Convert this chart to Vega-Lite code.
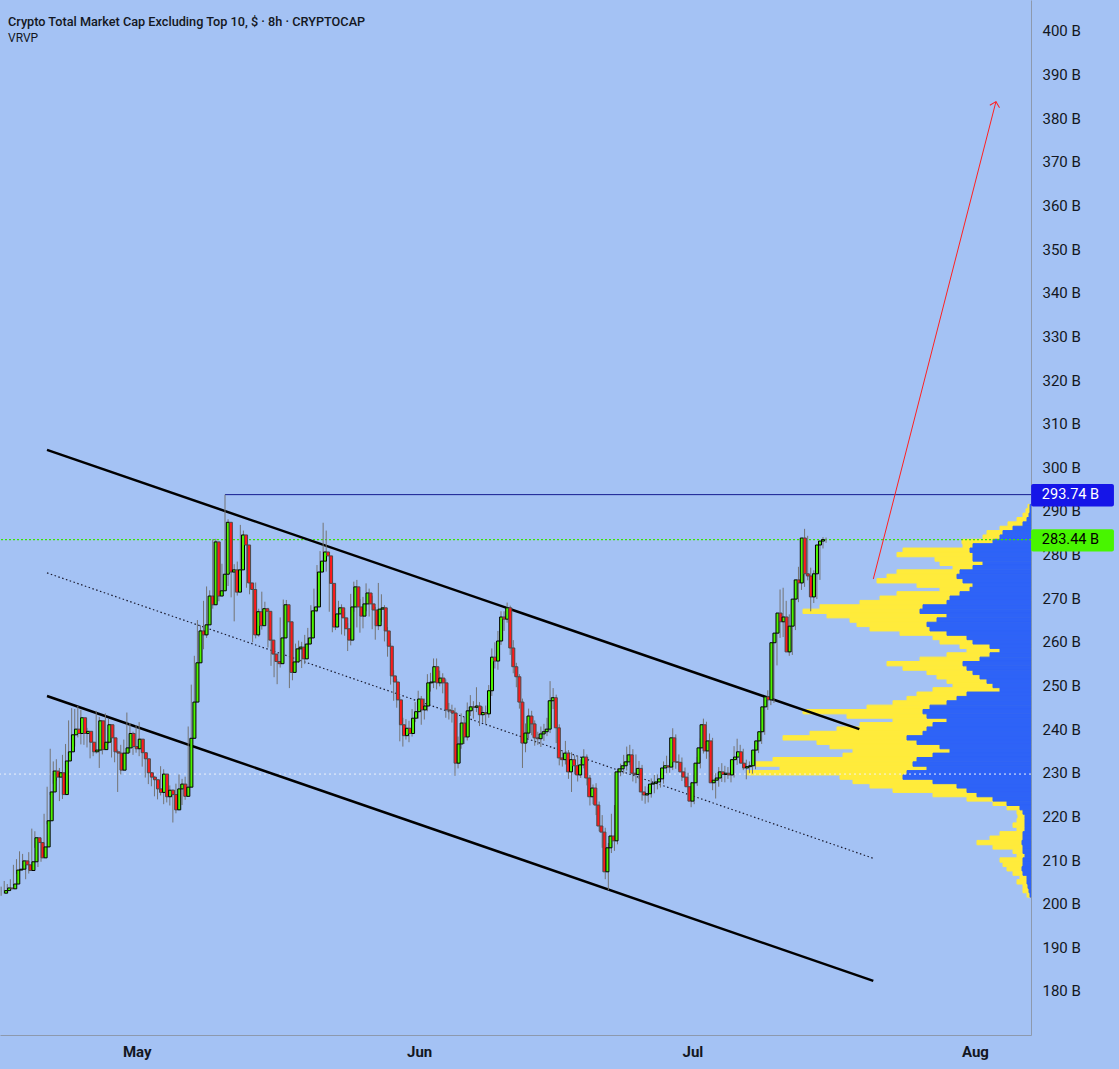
{
"$schema": "https://vega.github.io/schema/vega-lite/v6.json",
"width": 1031, "height": 1035,
"autosize": {"type": "none"},
"padding": {"left": 0, "top": 0, "right": 88, "bottom": 34},
"background": "#a4c2f4",
"config": {"view": {"stroke": null}, "font": "Roboto"},
"title": {"text": "Crypto Total Market Cap Excluding Top 10, $ · 8h · CRYPTOCAP", "subtitle": "VRVP", "anchor": "start", "frame": "group", "orient": "top", "offset": -44, "dx": 8, "font": "Roboto", "fontSize": 12.7, "fontWeight": 500, "color": "#131722", "subtitleFont": "Roboto", "subtitleFontSize": 12, "subtitleColor": "#131722", "subtitlePadding": 4},
"datasets": {
"candles": [
{"t":"2025-04-16T16:00","o":202.4,"h":203.9,"l":201.8,"c":203.0},
{"t":"2025-04-17T00:00","o":203.0,"h":205.2,"l":202.3,"c":203.6},
{"t":"2025-04-17T08:00","o":203.6,"h":204.5,"l":202.6,"c":203.4},
{"t":"2025-04-17T16:00","o":203.4,"h":205.6,"l":203.0,"c":204.5},
{"t":"2025-04-18T00:00","o":204.5,"h":208.9,"l":204.0,"c":207.7},
{"t":"2025-04-18T08:00","o":207.7,"h":210.2,"l":206.8,"c":207.9},
{"t":"2025-04-18T16:00","o":207.9,"h":212.0,"l":207.2,"c":209.8},
{"t":"2025-04-19T00:00","o":209.8,"h":211.4,"l":208.0,"c":208.9},
{"t":"2025-04-19T08:00","o":208.9,"h":209.6,"l":205.6,"c":207.6},
{"t":"2025-04-19T16:00","o":207.6,"h":211.8,"l":206.9,"c":209.6},
{"t":"2025-04-20T00:00","o":209.6,"h":217.2,"l":209.0,"c":215.1},
{"t":"2025-04-20T08:00","o":215.1,"h":216.6,"l":212.8,"c":214.0},
{"t":"2025-04-20T16:00","o":214.0,"h":214.8,"l":208.4,"c":210.5},
{"t":"2025-04-21T00:00","o":210.5,"h":214.3,"l":209.6,"c":213.0},
{"t":"2025-04-21T08:00","o":213.0,"h":220.6,"l":212.1,"c":219.0},
{"t":"2025-04-21T16:00","o":219.0,"h":226.8,"l":218.2,"c":225.6},
{"t":"2025-04-22T00:00","o":225.6,"h":235.5,"l":224.9,"c":230.4},
{"t":"2025-04-22T08:00","o":230.4,"h":232.6,"l":227.5,"c":229.0},
{"t":"2025-04-22T16:00","o":229.0,"h":233.1,"l":228.2,"c":230.0},
{"t":"2025-04-23T00:00","o":230.0,"h":231.1,"l":223.5,"c":225.0},
{"t":"2025-04-23T08:00","o":225.0,"h":234.1,"l":224.0,"c":232.7},
{"t":"2025-04-23T16:00","o":232.7,"h":236.6,"l":231.0,"c":234.8},
{"t":"2025-04-24T00:00","o":234.8,"h":242.0,"l":233.9,"c":238.7},
{"t":"2025-04-24T08:00","o":238.7,"h":244.8,"l":237.6,"c":240.0},
{"t":"2025-04-24T16:00","o":240.0,"h":244.6,"l":236.0,"c":239.0},
{"t":"2025-04-25T00:00","o":239.0,"h":245.3,"l":238.1,"c":242.6},
{"t":"2025-04-25T08:00","o":242.6,"h":244.4,"l":236.5,"c":239.0},
{"t":"2025-04-25T16:00","o":239.0,"h":241.6,"l":236.4,"c":239.5},
{"t":"2025-04-26T00:00","o":239.5,"h":240.3,"l":235.8,"c":237.0},
{"t":"2025-04-26T08:00","o":237.0,"h":238.6,"l":233.3,"c":234.8},
{"t":"2025-04-26T16:00","o":234.8,"h":236.9,"l":233.8,"c":235.2},
{"t":"2025-04-27T00:00","o":235.2,"h":244.2,"l":234.4,"c":241.9},
{"t":"2025-04-27T08:00","o":241.9,"h":242.8,"l":231.1,"c":235.3},
{"t":"2025-04-27T16:00","o":235.3,"h":238.9,"l":234.2,"c":237.0},
{"t":"2025-04-28T00:00","o":237.0,"h":243.6,"l":236.2,"c":241.0},
{"t":"2025-04-28T08:00","o":241.0,"h":242.3,"l":236.7,"c":238.0},
{"t":"2025-04-28T16:00","o":238.0,"h":239.1,"l":233.5,"c":234.8},
{"t":"2025-04-29T00:00","o":234.8,"h":236.0,"l":232.4,"c":234.5},
{"t":"2025-04-29T08:00","o":234.5,"h":235.3,"l":225.6,"c":230.6},
{"t":"2025-04-29T16:00","o":230.6,"h":236.4,"l":229.6,"c":234.5},
{"t":"2025-04-30T00:00","o":234.5,"h":237.6,"l":233.5,"c":235.7},
{"t":"2025-04-30T08:00","o":235.7,"h":243.8,"l":234.9,"c":239.0},
{"t":"2025-04-30T16:00","o":239.0,"h":241.4,"l":234.6,"c":236.0},
{"t":"2025-05-01T00:00","o":236.0,"h":239.4,"l":234.1,"c":235.5},
{"t":"2025-05-01T08:00","o":235.5,"h":240.9,"l":234.6,"c":237.7},
{"t":"2025-05-01T16:00","o":237.7,"h":241.6,"l":233.8,"c":234.6},
{"t":"2025-05-02T00:00","o":234.6,"h":235.7,"l":231.4,"c":233.2},
{"t":"2025-05-02T08:00","o":233.2,"h":234.2,"l":228.9,"c":230.0},
{"t":"2025-05-02T16:00","o":230.0,"h":231.3,"l":227.4,"c":229.0},
{"t":"2025-05-03T00:00","o":229.0,"h":230.1,"l":226.9,"c":228.4},
{"t":"2025-05-03T08:00","o":228.4,"h":229.2,"l":224.6,"c":226.3},
{"t":"2025-05-03T16:00","o":226.3,"h":228.0,"l":223.9,"c":225.5},
{"t":"2025-05-04T00:00","o":225.5,"h":231.5,"l":224.8,"c":229.7},
{"t":"2025-05-04T08:00","o":229.7,"h":230.8,"l":222.8,"c":224.5},
{"t":"2025-05-04T16:00","o":224.5,"h":227.6,"l":223.2,"c":226.0},
{"t":"2025-05-05T00:00","o":226.0,"h":227.1,"l":222.5,"c":225.0},
{"t":"2025-05-05T08:00","o":225.0,"h":226.2,"l":218.6,"c":221.5},
{"t":"2025-05-05T16:00","o":221.5,"h":227.5,"l":220.7,"c":226.3},
{"t":"2025-05-06T00:00","o":226.3,"h":229.6,"l":225.4,"c":227.4},
{"t":"2025-05-06T08:00","o":227.4,"h":228.6,"l":222.6,"c":224.6},
{"t":"2025-05-06T16:00","o":224.6,"h":229.1,"l":223.8,"c":226.7},
{"t":"2025-05-07T00:00","o":226.7,"h":240.6,"l":225.9,"c":237.9},
{"t":"2025-05-07T08:00","o":237.9,"h":250.2,"l":237.0,"c":246.2},
{"t":"2025-05-07T16:00","o":246.2,"h":256.8,"l":245.3,"c":255.2},
{"t":"2025-05-08T00:00","o":255.2,"h":265.0,"l":254.0,"c":262.5},
{"t":"2025-05-08T08:00","o":262.5,"h":263.8,"l":257.0,"c":261.6},
{"t":"2025-05-08T16:00","o":261.6,"h":269.4,"l":258.3,"c":263.9},
{"t":"2025-05-09T00:00","o":263.9,"h":272.7,"l":260.9,"c":270.5},
{"t":"2025-05-09T08:00","o":270.5,"h":271.8,"l":264.1,"c":268.5},
{"t":"2025-05-09T16:00","o":268.5,"h":283.5,"l":267.6,"c":282.9},
{"t":"2025-05-10T00:00","o":282.9,"h":283.6,"l":269.1,"c":270.5},
{"t":"2025-05-10T08:00","o":270.5,"h":276.3,"l":269.3,"c":271.7},
{"t":"2025-05-10T16:00","o":271.7,"h":277.9,"l":270.8,"c":275.5},
{"t":"2025-05-11T00:00","o":275.5,"h":293.74,"l":274.9,"c":287.4},
{"t":"2025-05-11T08:00","o":287.4,"h":288.1,"l":272.8,"c":276.0},
{"t":"2025-05-11T16:00","o":276.0,"h":279.1,"l":270.2,"c":276.5},
{"t":"2025-05-12T00:00","o":276.5,"h":277.8,"l":264.7,"c":271.4},
{"t":"2025-05-12T08:00","o":271.4,"h":278.4,"l":270.6,"c":276.5},
{"t":"2025-05-12T16:00","o":276.5,"h":286.8,"l":275.9,"c":284.5},
{"t":"2025-05-13T00:00","o":284.5,"h":285.5,"l":280.4,"c":282.2},
{"t":"2025-05-13T08:00","o":282.2,"h":282.9,"l":272.4,"c":273.5},
{"t":"2025-05-13T16:00","o":273.5,"h":275.3,"l":270.9,"c":272.0},
{"t":"2025-05-14T00:00","o":272.0,"h":272.8,"l":259.9,"c":261.6},
{"t":"2025-05-14T08:00","o":261.6,"h":273.6,"l":260.8,"c":266.9},
{"t":"2025-05-14T16:00","o":266.9,"h":267.6,"l":261.2,"c":263.7},
{"t":"2025-05-15T00:00","o":263.7,"h":271.5,"l":262.8,"c":267.6},
{"t":"2025-05-15T08:00","o":267.6,"h":269.2,"l":264.1,"c":267.0},
{"t":"2025-05-15T16:00","o":267.0,"h":267.8,"l":258.7,"c":260.4},
{"t":"2025-05-16T00:00","o":260.4,"h":262.0,"l":254.5,"c":257.2},
{"t":"2025-05-16T08:00","o":257.2,"h":258.6,"l":251.9,"c":255.5},
{"t":"2025-05-16T16:00","o":255.5,"h":257.0,"l":250.3,"c":255.0},
{"t":"2025-05-17T00:00","o":255.0,"h":265.6,"l":254.1,"c":260.9},
{"t":"2025-05-17T08:00","o":260.9,"h":269.7,"l":259.8,"c":268.5},
{"t":"2025-05-17T16:00","o":268.5,"h":269.6,"l":262.4,"c":264.6},
{"t":"2025-05-18T00:00","o":264.6,"h":265.1,"l":249.4,"c":253.0},
{"t":"2025-05-18T08:00","o":253.0,"h":258.7,"l":251.2,"c":255.4},
{"t":"2025-05-18T16:00","o":255.4,"h":259.6,"l":253.4,"c":258.4},
{"t":"2025-05-19T00:00","o":258.4,"h":260.3,"l":255.2,"c":258.8},
{"t":"2025-05-19T08:00","o":258.8,"h":260.0,"l":254.0,"c":256.1},
{"t":"2025-05-19T16:00","o":256.1,"h":261.6,"l":254.9,"c":259.5},
{"t":"2025-05-20T00:00","o":259.5,"h":263.2,"l":258.6,"c":260.9},
{"t":"2025-05-20T08:00","o":260.9,"h":268.4,"l":259.7,"c":267.1},
{"t":"2025-05-20T16:00","o":267.1,"h":272.2,"l":265.6,"c":268.0},
{"t":"2025-05-21T00:00","o":268.0,"h":277.6,"l":266.8,"c":276.0},
{"t":"2025-05-21T08:00","o":276.0,"h":280.8,"l":272.8,"c":278.5},
{"t":"2025-05-21T16:00","o":278.5,"h":287.3,"l":277.9,"c":280.6},
{"t":"2025-05-22T00:00","o":280.6,"h":285.5,"l":276.1,"c":279.7},
{"t":"2025-05-22T08:00","o":279.7,"h":280.4,"l":266.9,"c":273.4},
{"t":"2025-05-22T16:00","o":273.4,"h":274.0,"l":262.2,"c":263.4},
{"t":"2025-05-23T00:00","o":263.4,"h":269.2,"l":262.7,"c":266.4},
{"t":"2025-05-23T08:00","o":266.4,"h":269.4,"l":265.0,"c":267.8},
{"t":"2025-05-23T16:00","o":267.8,"h":268.6,"l":261.7,"c":265.5},
{"t":"2025-05-24T00:00","o":265.5,"h":266.9,"l":261.4,"c":263.0},
{"t":"2025-05-24T08:00","o":263.0,"h":264.3,"l":257.9,"c":260.4},
{"t":"2025-05-24T16:00","o":260.4,"h":271.0,"l":259.2,"c":268.0},
{"t":"2025-05-25T00:00","o":268.0,"h":273.8,"l":266.9,"c":272.6},
{"t":"2025-05-25T08:00","o":272.6,"h":274.2,"l":263.3,"c":268.0},
{"t":"2025-05-25T16:00","o":268.0,"h":269.8,"l":262.1,"c":265.9},
{"t":"2025-05-26T00:00","o":265.9,"h":270.3,"l":263.1,"c":268.7},
{"t":"2025-05-26T08:00","o":268.7,"h":273.4,"l":267.0,"c":271.2},
{"t":"2025-05-26T16:00","o":271.2,"h":272.2,"l":265.8,"c":268.7},
{"t":"2025-05-27T00:00","o":268.7,"h":270.6,"l":262.9,"c":267.3},
{"t":"2025-05-27T08:00","o":267.3,"h":268.0,"l":260.5,"c":263.7},
{"t":"2025-05-27T16:00","o":263.7,"h":273.5,"l":262.7,"c":267.5},
{"t":"2025-05-28T00:00","o":267.5,"h":270.9,"l":264.6,"c":267.8},
{"t":"2025-05-28T08:00","o":267.8,"h":268.4,"l":260.1,"c":262.5},
{"t":"2025-05-28T16:00","o":262.5,"h":263.4,"l":256.6,"c":259.0},
{"t":"2025-05-29T00:00","o":259.0,"h":259.7,"l":250.2,"c":252.2},
{"t":"2025-05-29T08:00","o":252.2,"h":253.5,"l":246.5,"c":250.8},
{"t":"2025-05-29T16:00","o":250.8,"h":251.5,"l":244.9,"c":246.7},
{"t":"2025-05-30T00:00","o":246.7,"h":247.5,"l":237.2,"c":241.0},
{"t":"2025-05-30T08:00","o":241.0,"h":242.6,"l":236.0,"c":238.5},
{"t":"2025-05-30T16:00","o":238.5,"h":242.3,"l":237.6,"c":240.2},
{"t":"2025-05-31T00:00","o":240.2,"h":241.9,"l":237.0,"c":239.0},
{"t":"2025-05-31T08:00","o":239.0,"h":244.6,"l":238.3,"c":242.5},
{"t":"2025-05-31T16:00","o":242.5,"h":246.2,"l":241.6,"c":244.0},
{"t":"2025-06-01T00:00","o":244.0,"h":248.8,"l":242.4,"c":246.9},
{"t":"2025-06-01T08:00","o":246.9,"h":247.6,"l":241.0,"c":244.4},
{"t":"2025-06-01T16:00","o":244.4,"h":247.0,"l":242.2,"c":245.3},
{"t":"2025-06-02T00:00","o":245.3,"h":252.6,"l":244.1,"c":250.6},
{"t":"2025-06-02T08:00","o":250.6,"h":252.9,"l":248.6,"c":250.8},
{"t":"2025-06-02T16:00","o":250.8,"h":256.2,"l":249.4,"c":254.3},
{"t":"2025-06-03T00:00","o":254.3,"h":256.2,"l":249.1,"c":250.6},
{"t":"2025-06-03T08:00","o":250.6,"h":253.4,"l":249.8,"c":251.7},
{"t":"2025-06-03T16:00","o":251.7,"h":252.8,"l":248.2,"c":250.6},
{"t":"2025-06-04T00:00","o":250.6,"h":251.4,"l":242.6,"c":244.4},
{"t":"2025-06-04T08:00","o":244.4,"h":246.0,"l":242.2,"c":244.2},
{"t":"2025-06-04T16:00","o":244.2,"h":245.6,"l":241.5,"c":243.7},
{"t":"2025-06-05T00:00","o":243.7,"h":244.9,"l":229.3,"c":232.2},
{"t":"2025-06-05T08:00","o":232.2,"h":238.3,"l":231.0,"c":236.6},
{"t":"2025-06-05T16:00","o":236.6,"h":243.6,"l":235.5,"c":241.4},
{"t":"2025-06-06T00:00","o":241.4,"h":242.8,"l":236.6,"c":238.2},
{"t":"2025-06-06T08:00","o":238.2,"h":246.1,"l":237.4,"c":244.2},
{"t":"2025-06-06T16:00","o":244.2,"h":247.8,"l":243.0,"c":245.1},
{"t":"2025-06-07T00:00","o":245.1,"h":246.4,"l":242.4,"c":245.0},
{"t":"2025-06-07T08:00","o":245.0,"h":249.6,"l":243.9,"c":245.3},
{"t":"2025-06-07T16:00","o":245.3,"h":246.2,"l":240.7,"c":243.3},
{"t":"2025-06-08T00:00","o":243.3,"h":245.2,"l":241.6,"c":243.8},
{"t":"2025-06-08T08:00","o":243.8,"h":245.4,"l":241.2,"c":243.5},
{"t":"2025-06-08T16:00","o":243.5,"h":250.1,"l":242.6,"c":248.8},
{"t":"2025-06-09T00:00","o":248.8,"h":258.5,"l":247.6,"c":256.5},
{"t":"2025-06-09T08:00","o":256.5,"h":259.9,"l":253.9,"c":255.6},
{"t":"2025-06-09T16:00","o":255.6,"h":262.5,"l":253.6,"c":260.2},
{"t":"2025-06-10T00:00","o":260.2,"h":267.0,"l":259.3,"c":265.7},
{"t":"2025-06-10T08:00","o":265.7,"h":267.0,"l":262.5,"c":265.2},
{"t":"2025-06-10T16:00","o":265.2,"h":269.0,"l":264.4,"c":267.8},
{"t":"2025-06-11T00:00","o":267.8,"h":268.3,"l":257.0,"c":258.6},
{"t":"2025-06-11T08:00","o":258.6,"h":260.4,"l":252.8,"c":254.3},
{"t":"2025-06-11T16:00","o":254.3,"h":255.2,"l":249.6,"c":252.0},
{"t":"2025-06-12T00:00","o":252.0,"h":252.6,"l":244.7,"c":246.2},
{"t":"2025-06-12T08:00","o":246.2,"h":247.0,"l":231.1,"c":236.8},
{"t":"2025-06-12T16:00","o":236.8,"h":241.3,"l":234.7,"c":239.1},
{"t":"2025-06-13T00:00","o":239.1,"h":244.7,"l":237.9,"c":243.0},
{"t":"2025-06-13T08:00","o":243.0,"h":244.2,"l":238.6,"c":241.2},
{"t":"2025-06-13T16:00","o":241.2,"h":242.0,"l":236.2,"c":238.0},
{"t":"2025-06-14T00:00","o":238.0,"h":239.4,"l":236.4,"c":237.8},
{"t":"2025-06-14T08:00","o":237.8,"h":240.6,"l":235.9,"c":238.9},
{"t":"2025-06-14T16:00","o":238.9,"h":241.2,"l":237.3,"c":239.4},
{"t":"2025-06-15T00:00","o":239.4,"h":242.6,"l":238.4,"c":240.0},
{"t":"2025-06-15T08:00","o":240.0,"h":251.0,"l":239.1,"c":246.5},
{"t":"2025-06-15T16:00","o":246.5,"h":249.4,"l":244.6,"c":247.2},
{"t":"2025-06-16T00:00","o":247.2,"h":247.9,"l":236.8,"c":240.3},
{"t":"2025-06-16T08:00","o":240.3,"h":241.1,"l":231.7,"c":233.4},
{"t":"2025-06-16T16:00","o":233.4,"h":234.9,"l":231.4,"c":233.0},
{"t":"2025-06-17T00:00","o":233.0,"h":237.3,"l":231.9,"c":234.5},
{"t":"2025-06-17T08:00","o":234.5,"h":235.2,"l":228.6,"c":230.2},
{"t":"2025-06-17T16:00","o":230.2,"h":234.7,"l":225.6,"c":233.0},
{"t":"2025-06-18T00:00","o":233.0,"h":234.0,"l":229.6,"c":231.6},
{"t":"2025-06-18T08:00","o":231.6,"h":233.9,"l":228.0,"c":229.5},
{"t":"2025-06-18T16:00","o":229.5,"h":233.1,"l":228.8,"c":231.8},
{"t":"2025-06-19T00:00","o":231.8,"h":235.4,"l":231.0,"c":233.6},
{"t":"2025-06-19T08:00","o":233.6,"h":234.2,"l":227.1,"c":228.8},
{"t":"2025-06-19T16:00","o":228.8,"h":229.5,"l":222.5,"c":224.5},
{"t":"2025-06-20T00:00","o":224.5,"h":227.3,"l":222.8,"c":226.5},
{"t":"2025-06-20T08:00","o":226.5,"h":227.6,"l":220.3,"c":222.6},
{"t":"2025-06-20T16:00","o":222.6,"h":223.4,"l":216.6,"c":217.8},
{"t":"2025-06-21T00:00","o":217.8,"h":220.3,"l":212.8,"c":216.4},
{"t":"2025-06-21T08:00","o":216.4,"h":217.4,"l":205.6,"c":207.3},
{"t":"2025-06-21T16:00","o":207.3,"h":213.9,"l":203.1,"c":212.8},
{"t":"2025-06-22T00:00","o":212.8,"h":220.6,"l":211.6,"c":215.5},
{"t":"2025-06-22T08:00","o":215.5,"h":222.6,"l":212.1,"c":214.4},
{"t":"2025-06-22T16:00","o":214.4,"h":231.0,"l":213.6,"c":230.2},
{"t":"2025-06-23T00:00","o":230.2,"h":232.1,"l":229.2,"c":230.9},
{"t":"2025-06-23T08:00","o":230.9,"h":234.1,"l":229.8,"c":231.6},
{"t":"2025-06-23T16:00","o":231.6,"h":236.0,"l":230.5,"c":232.5},
{"t":"2025-06-24T00:00","o":232.5,"h":236.4,"l":231.8,"c":234.1},
{"t":"2025-06-24T08:00","o":234.1,"h":235.4,"l":228.0,"c":229.9},
{"t":"2025-06-24T16:00","o":229.9,"h":234.2,"l":227.6,"c":229.6},
{"t":"2025-06-25T00:00","o":229.6,"h":232.7,"l":228.6,"c":231.0},
{"t":"2025-06-25T08:00","o":231.0,"h":231.8,"l":223.6,"c":225.6},
{"t":"2025-06-25T16:00","o":225.6,"h":226.9,"l":222.9,"c":224.9},
{"t":"2025-06-26T00:00","o":224.9,"h":226.8,"l":223.2,"c":225.2},
{"t":"2025-06-26T08:00","o":225.2,"h":228.7,"l":224.3,"c":227.4},
{"t":"2025-06-26T16:00","o":227.4,"h":229.5,"l":225.3,"c":227.6},
{"t":"2025-06-27T00:00","o":227.6,"h":229.6,"l":226.2,"c":227.9},
{"t":"2025-06-27T08:00","o":227.9,"h":230.3,"l":226.6,"c":228.6},
{"t":"2025-06-27T16:00","o":228.6,"h":232.6,"l":227.5,"c":231.1},
{"t":"2025-06-28T00:00","o":231.1,"h":233.9,"l":229.9,"c":231.6},
{"t":"2025-06-28T08:00","o":231.6,"h":233.1,"l":230.0,"c":231.3},
{"t":"2025-06-28T16:00","o":231.3,"h":240.2,"l":230.6,"c":238.0},
{"t":"2025-06-29T00:00","o":238.0,"h":238.8,"l":230.9,"c":232.5},
{"t":"2025-06-29T08:00","o":232.5,"h":234.2,"l":230.6,"c":232.4},
{"t":"2025-06-29T16:00","o":232.4,"h":233.5,"l":228.1,"c":230.2},
{"t":"2025-06-30T00:00","o":230.2,"h":231.2,"l":227.6,"c":229.0},
{"t":"2025-06-30T08:00","o":229.0,"h":230.0,"l":225.5,"c":226.8},
{"t":"2025-06-30T16:00","o":226.8,"h":227.9,"l":222.1,"c":223.5},
{"t":"2025-07-01T00:00","o":223.5,"h":229.5,"l":222.8,"c":227.7},
{"t":"2025-07-01T08:00","o":227.7,"h":233.6,"l":227.0,"c":232.2},
{"t":"2025-07-01T16:00","o":232.2,"h":237.9,"l":231.0,"c":235.7},
{"t":"2025-07-02T00:00","o":235.7,"h":242.4,"l":234.4,"c":241.0},
{"t":"2025-07-02T08:00","o":241.0,"h":241.7,"l":233.2,"c":235.0},
{"t":"2025-07-02T16:00","o":235.0,"h":239.0,"l":233.6,"c":237.3},
{"t":"2025-07-03T00:00","o":237.3,"h":238.0,"l":226.0,"c":227.7},
{"t":"2025-07-03T08:00","o":227.7,"h":229.9,"l":224.1,"c":228.3},
{"t":"2025-07-03T16:00","o":228.3,"h":231.3,"l":226.8,"c":228.8},
{"t":"2025-07-04T00:00","o":228.8,"h":232.2,"l":227.9,"c":230.2},
{"t":"2025-07-04T08:00","o":230.2,"h":231.6,"l":227.8,"c":229.6},
{"t":"2025-07-04T16:00","o":229.6,"h":231.3,"l":228.6,"c":229.9},
{"t":"2025-07-05T00:00","o":229.9,"h":230.8,"l":227.8,"c":229.5},
{"t":"2025-07-05T08:00","o":229.5,"h":236.1,"l":228.9,"c":233.0},
{"t":"2025-07-05T16:00","o":233.0,"h":237.8,"l":231.8,"c":233.6},
{"t":"2025-07-06T00:00","o":233.6,"h":236.4,"l":232.5,"c":234.8},
{"t":"2025-07-06T08:00","o":234.8,"h":235.5,"l":230.6,"c":232.2},
{"t":"2025-07-06T16:00","o":232.2,"h":233.0,"l":228.5,"c":231.1},
{"t":"2025-07-07T00:00","o":231.1,"h":232.6,"l":229.9,"c":231.4},
{"t":"2025-07-07T08:00","o":231.4,"h":233.0,"l":229.8,"c":231.6},
{"t":"2025-07-07T16:00","o":231.6,"h":236.3,"l":230.8,"c":235.2},
{"t":"2025-07-08T00:00","o":235.2,"h":238.6,"l":234.5,"c":237.3},
{"t":"2025-07-08T08:00","o":237.3,"h":240.5,"l":236.6,"c":239.4},
{"t":"2025-07-08T16:00","o":239.4,"h":246.4,"l":238.7,"c":245.1},
{"t":"2025-07-09T00:00","o":245.1,"h":248.9,"l":244.4,"c":247.4},
{"t":"2025-07-09T08:00","o":247.4,"h":248.3,"l":245.5,"c":246.7},
{"t":"2025-07-09T16:00","o":246.7,"h":261.4,"l":246.0,"c":259.8},
{"t":"2025-07-10T00:00","o":259.8,"h":264.6,"l":254.6,"c":262.0},
{"t":"2025-07-10T08:00","o":262.0,"h":272.0,"l":260.9,"c":266.6},
{"t":"2025-07-10T16:00","o":266.6,"h":272.4,"l":261.1,"c":264.6},
{"t":"2025-07-11T00:00","o":264.6,"h":269.4,"l":263.2,"c":265.7},
{"t":"2025-07-11T08:00","o":265.7,"h":266.3,"l":256.8,"c":257.7},
{"t":"2025-07-11T16:00","o":257.7,"h":264.8,"l":257.0,"c":263.6},
{"t":"2025-07-12T00:00","o":263.6,"h":271.3,"l":262.7,"c":269.8},
{"t":"2025-07-12T08:00","o":269.8,"h":277.2,"l":269.1,"c":274.2},
{"t":"2025-07-12T16:00","o":274.2,"h":276.0,"l":271.9,"c":273.5},
{"t":"2025-07-13T00:00","o":273.5,"h":285.9,"l":272.6,"c":283.8},
{"t":"2025-07-13T08:00","o":283.8,"h":284.3,"l":274.1,"c":275.6},
{"t":"2025-07-13T16:00","o":275.6,"h":277.0,"l":267.0,"c":275.1},
{"t":"2025-07-14T00:00","o":275.1,"h":276.4,"l":268.9,"c":270.3},
{"t":"2025-07-14T08:00","o":270.3,"h":276.8,"l":269.8,"c":275.6},
{"t":"2025-07-14T16:00","o":275.6,"h":282.9,"l":274.2,"c":282.2},
{"t":"2025-07-15T00:00","o":282.2,"h":284.0,"l":281.4,"c":283.1},
{"t":"2025-07-15T08:00","o":283.1,"h":283.9,"l":282.7,"c":283.44}
],
"vrvp": [
{"lo":290.5,"hi":291.5,"up":1,"total":3},
{"lo":289.5,"hi":290.5,"up":1,"total":5},
{"lo":288.5,"hi":289.5,"up":2,"total":8},
{"lo":287.5,"hi":288.5,"up":4,"total":14},
{"lo":286.5,"hi":287.5,"up":8,"total":23},
{"lo":285.5,"hi":286.5,"up":18,"total":31},
{"lo":284.5,"hi":285.5,"up":28,"total":44},
{"lo":283.5,"hi":284.5,"up":31,"total":48},
{"lo":282.5,"hi":283.5,"up":38,"total":69},
{"lo":281.5,"hi":282.5,"up":58,"total":68},
{"lo":280.5,"hi":281.5,"up":61,"total":128},
{"lo":279.5,"hi":280.5,"up":58,"total":134},
{"lo":278.5,"hi":279.5,"up":58,"total":96},
{"lo":277.5,"hi":278.5,"up":48,"total":91},
{"lo":276.5,"hi":277.5,"up":58,"total":78},
{"lo":275.5,"hi":276.5,"up":71,"total":134},
{"lo":274.5,"hi":275.5,"up":74,"total":144},
{"lo":273.5,"hi":274.5,"up":68,"total":154},
{"lo":272.5,"hi":273.5,"up":58,"total":114},
{"lo":271.5,"hi":272.5,"up":61,"total":91},
{"lo":270.5,"hi":271.5,"up":71,"total":134},
{"lo":269.5,"hi":270.5,"up":81,"total":151},
{"lo":268.5,"hi":269.5,"up":84,"total":171},
{"lo":267.5,"hi":268.5,"up":108,"total":211},
{"lo":266.5,"hi":267.5,"up":111,"total":228},
{"lo":265.5,"hi":266.5,"up":84,"total":204},
{"lo":264.5,"hi":265.5,"up":94,"total":181},
{"lo":263.5,"hi":264.5,"up":104,"total":174},
{"lo":262.5,"hi":263.5,"up":101,"total":161},
{"lo":261.5,"hi":262.5,"up":84,"total":131},
{"lo":260.5,"hi":261.5,"up":64,"total":98},
{"lo":259.5,"hi":260.5,"up":58,"total":91},
{"lo":258.5,"hi":259.5,"up":41,"total":71},
{"lo":257.5,"hi":258.5,"up":31,"total":64},
{"lo":256.5,"hi":257.5,"up":41,"total":84},
{"lo":255.5,"hi":256.5,"up":51,"total":111},
{"lo":254.5,"hi":255.5,"up":68,"total":144},
{"lo":253.5,"hi":254.5,"up":64,"total":128},
{"lo":252.5,"hi":253.5,"up":58,"total":104},
{"lo":251.5,"hi":252.5,"up":51,"total":94},
{"lo":250.5,"hi":251.5,"up":44,"total":84},
{"lo":249.5,"hi":250.5,"up":38,"total":78},
{"lo":248.5,"hi":249.5,"up":31,"total":98},
{"lo":247.5,"hi":248.5,"up":64,"total":114},
{"lo":246.5,"hi":247.5,"up":74,"total":124},
{"lo":245.5,"hi":246.5,"up":84,"total":138},
{"lo":244.5,"hi":245.5,"up":101,"total":164},
{"lo":243.5,"hi":244.5,"up":108,"total":228},
{"lo":242.5,"hi":243.5,"up":104,"total":184},
{"lo":241.5,"hi":242.5,"up":84,"total":138},
{"lo":240.5,"hi":241.5,"up":98,"total":171},
{"lo":239.5,"hi":240.5,"up":104,"total":194},
{"lo":238.5,"hi":239.5,"up":108,"total":221},
{"lo":237.5,"hi":238.5,"up":124,"total":248},
{"lo":236.5,"hi":237.5,"up":114,"total":214},
{"lo":235.5,"hi":236.5,"up":91,"total":201},
{"lo":234.5,"hi":235.5,"up":81,"total":178},
{"lo":233.5,"hi":234.5,"up":98,"total":188},
{"lo":232.5,"hi":233.5,"up":114,"total":258},
{"lo":231.5,"hi":232.5,"up":118,"total":276},
{"lo":230.5,"hi":231.5,"up":104,"total":251},
{"lo":229.5,"hi":230.5,"up":124,"total":284},
{"lo":228.5,"hi":229.5,"up":128,"total":191},
{"lo":227.5,"hi":228.5,"up":98,"total":178},
{"lo":226.5,"hi":227.5,"up":74,"total":161},
{"lo":225.5,"hi":226.5,"up":64,"total":138},
{"lo":224.5,"hi":225.5,"up":54,"total":98},
{"lo":223.5,"hi":224.5,"up":38,"total":64},
{"lo":222.5,"hi":223.5,"up":24,"total":38},
{"lo":221.5,"hi":222.5,"up":11,"total":24},
{"lo":220.5,"hi":221.5,"up":8,"total":14},
{"lo":219.5,"hi":220.5,"up":6,"total":13},
{"lo":218.5,"hi":219.5,"up":6,"total":14},
{"lo":217.5,"hi":218.5,"up":6,"total":18},
{"lo":216.5,"hi":217.5,"up":6,"total":14},
{"lo":215.5,"hi":216.5,"up":8,"total":31},
{"lo":214.5,"hi":215.5,"up":8,"total":41},
{"lo":213.5,"hi":214.5,"up":9,"total":54},
{"lo":212.5,"hi":213.5,"up":8,"total":38},
{"lo":211.5,"hi":212.5,"up":8,"total":18},
{"lo":210.5,"hi":211.5,"up":6,"total":14},
{"lo":209.5,"hi":210.5,"up":8,"total":31},
{"lo":208.5,"hi":209.5,"up":8,"total":28},
{"lo":207.5,"hi":208.5,"up":9,"total":24},
{"lo":206.5,"hi":207.5,"up":8,"total":18},
{"lo":205.5,"hi":206.5,"up":4,"total":11},
{"lo":204.5,"hi":205.5,"up":4,"total":14},
{"lo":203.5,"hi":204.5,"up":3,"total":8},
{"lo":202.5,"hi":203.5,"up":2,"total":8},
{"lo":201.5,"hi":202.5,"up":1,"total":4}
]
},
"layer": [
{"data": {"name": "vrvp"},
 "mark": {"type": "rect", "color": "#ffeb3b", "stroke": "#ffeb3b", "strokeWidth": 1},
 "encoding": {
  "x": {"field": "total", "type": "quantitative", "scale": {"domain": [0, 1031], "reverse": true, "nice": false, "zero": false}, "axis": null},
  "x2": {"datum": 0},
  "y": {"field": "lo", "type": "quantitative", "scale": {"domain": [169.9, 407.1], "nice": false, "zero": false}, "axis": null},
  "y2": {"field": "hi"}}},
{"data": {"name": "vrvp"},
 "mark": {"type": "rect", "color": "#2e63f7", "stroke": "#2e63f7", "strokeWidth": 1},
 "encoding": {
  "x": {"field": "up", "type": "quantitative", "scale": {"domain": [0, 1031], "reverse": true, "nice": false, "zero": false}, "axis": null},
  "x2": {"datum": 0},
  "y": {"field": "lo", "type": "quantitative", "scale": {"domain": [169.9, 407.1], "nice": false, "zero": false}, "axis": null},
  "y2": {"field": "hi"}}},
{"data": {"values": [{"p": 229.7}]},
 "mark": {"type": "rule", "color": "#eef2f8", "strokeWidth": 1, "strokeDash": [2, 3]},
 "encoding": {"y": {"field": "p", "type": "quantitative", "scale": {"domain": [169.9, 407.1], "nice": false, "zero": false}, "axis": null}}},
{"data": {"values": [{"p": 283.44}]},
 "mark": {"type": "rule", "color": "#39e600", "strokeWidth": 1.2, "strokeDash": [2, 2]},
 "encoding": {"y": {"field": "p", "type": "quantitative", "scale": {"domain": [169.9, 407.1], "nice": false, "zero": false}, "axis": null}}},
{"data": {"values": [{"t": "2025-05-11T00:00", "t2": "2025-08-06T14:38", "p": 293.74}]},
 "mark": {"type": "rule", "color": "#141b8f", "strokeWidth": 1},
 "encoding": {
  "x": {"field": "t", "type": "temporal", "scale": {"domain": [{"year": 2025, "month": 4, "date": 16, "hours": 13, "minutes": 2}, {"year": 2025, "month": 8, "date": 6, "hours": 14, "minutes": 38}], "nice": false}, "axis": null},
  "x2": {"field": "t2"},
  "y": {"field": "p", "type": "quantitative", "scale": {"domain": [169.9, 407.1], "nice": false, "zero": false}, "axis": null}}},
{"data": {"values": [{"t": "2025-04-21T15:40", "p": 304.0}, {"t": "2025-07-18T22:50", "p": 240.0}]},
 "mark": {"type": "line", "color": "#000000", "strokeWidth": 2.5},
 "encoding": {
  "x": {"field": "t", "type": "temporal", "scale": {"domain": [{"year": 2025, "month": 4, "date": 16, "hours": 13, "minutes": 2}, {"year": 2025, "month": 8, "date": 6, "hours": 14, "minutes": 38}], "nice": false}, "axis": null},
  "y": {"field": "p", "type": "quantitative", "scale": {"domain": [169.9, 407.1], "nice": false, "zero": false}, "axis": null}}},
{"data": {"values": [{"t": "2025-04-21T15:40", "p": 275.8}, {"t": "2025-07-20T11:15", "p": 210.4}]},
 "mark": {"type": "line", "color": "#1a1a2e", "strokeWidth": 1.2, "strokeDash": [1.5, 2.5]},
 "encoding": {
  "x": {"field": "t", "type": "temporal", "scale": {"domain": [{"year": 2025, "month": 4, "date": 16, "hours": 13, "minutes": 2}, {"year": 2025, "month": 8, "date": 6, "hours": 14, "minutes": 38}], "nice": false}, "axis": null},
  "y": {"field": "p", "type": "quantitative", "scale": {"domain": [169.9, 407.1], "nice": false, "zero": false}, "axis": null}}},
{"data": {"values": [{"t": "2025-04-21T15:40", "p": 247.6}, {"t": "2025-07-20T11:15", "p": 182.3}]},
 "mark": {"type": "line", "color": "#000000", "strokeWidth": 2.5},
 "encoding": {
  "x": {"field": "t", "type": "temporal", "scale": {"domain": [{"year": 2025, "month": 4, "date": 16, "hours": 13, "minutes": 2}, {"year": 2025, "month": 8, "date": 6, "hours": 14, "minutes": 38}], "nice": false}, "axis": null},
  "y": {"field": "p", "type": "quantitative", "scale": {"domain": [169.9, 407.1], "nice": false, "zero": false}, "axis": null}}},
{"data": {"name": "candles"},
 "mark": {"type": "rule", "color": "#737373", "strokeWidth": 1},
 "encoding": {
  "x": {"field": "t", "type": "temporal", "scale": {"domain": [{"year": 2025, "month": 4, "date": 16, "hours": 13, "minutes": 2}, {"year": 2025, "month": 8, "date": 6, "hours": 14, "minutes": 38}], "nice": false}, "axis": null},
  "y": {"field": "l", "type": "quantitative", "scale": {"domain": [169.9, 407.1], "nice": false, "zero": false}, "axis": null},
  "y2": {"field": "h"}}},
{"data": {"name": "candles"},
 "mark": {"type": "bar", "size": 3, "strokeWidth": 1},
 "encoding": {
  "x": {"field": "t", "type": "temporal", "scale": {"domain": [{"year": 2025, "month": 4, "date": 16, "hours": 13, "minutes": 2}, {"year": 2025, "month": 8, "date": 6, "hours": 14, "minutes": 38}], "nice": false},
   "axis": {"title": null, "values": [{"year": 2025, "month": 5, "date": 1}, {"year": 2025, "month": 6, "date": 1}, {"year": 2025, "month": 7, "date": 1}, {"year": 2025, "month": 8, "date": 1}], "format": "%b", "labelFont": "Roboto", "labelFontSize": 15, "labelFontWeight": "bold", "labelColor": "#131722", "ticks": false, "labelPadding": 9, "domainColor": "#8d99ad", "domainWidth": 1, "grid": false, "labelAlign": "center", "labelFlush": false}},
  "y": {"field": "o", "type": "quantitative", "scale": {"domain": [169.9, 407.1], "nice": false, "zero": false},
   "axis": {"title": null, "orient": "right", "values": [180, 190, 200, 210, 220, 230, 240, 250, 260, 270, 280, 290, 300, 310, 320, 330, 340, 350, 360, 370, 380, 390, 400], "labelExpr": "datum.value + ' B'", "labelFont": "Roboto", "labelFontSize": 15, "labelColor": "#131722", "ticks": false, "labelPadding": 11, "labelAlign": "left", "labelBaseline": "middle", "domainColor": "#8d99ad", "domainWidth": 1, "grid": false, "labelFlush": false, "labelOverlap": false}},
  "y2": {"field": "c"},
  "fill": {"condition": {"test": "datum.c >= datum.o", "value": "#4cf500"}, "value": "#ff1a1a"},
  "stroke": {"condition": {"test": "datum.c >= datum.o", "value": "#000000"}, "value": "#4a4a4a"}}},
{"data": {"values": [{"t": "2025-07-20T11:15", "p": 274.4}, {"t": "2025-08-02T19:10", "p": 383.8}]},
 "mark": {"type": "line", "color": "#ff2020", "strokeWidth": 1},
 "encoding": {
  "x": {"field": "t", "type": "temporal", "scale": {"domain": [{"year": 2025, "month": 4, "date": 16, "hours": 13, "minutes": 2}, {"year": 2025, "month": 8, "date": 6, "hours": 14, "minutes": 38}], "nice": false}, "axis": null},
  "y": {"field": "p", "type": "quantitative", "scale": {"domain": [169.9, 407.1], "nice": false, "zero": false}, "axis": null}}},
{"data": {"values": [{"t": "2025-08-02T19:10", "p": 383.8}]},
 "mark": {"type": "point", "shape": "M-1,1L0,0L1,1", "size": 100, "angle": 14.4, "filled": false, "stroke": "#ff2020", "strokeWidth": 1, "opacity": 1},
 "encoding": {
  "x": {"field": "t", "type": "temporal", "scale": {"domain": [{"year": 2025, "month": 4, "date": 16, "hours": 13, "minutes": 2}, {"year": 2025, "month": 8, "date": 6, "hours": 14, "minutes": 38}], "nice": false}, "axis": null},
  "y": {"field": "p", "type": "quantitative", "scale": {"domain": [169.9, 407.1], "nice": false, "zero": false}, "axis": null}}},
{"data": {"values": [{"t": "2025-08-06T15:00", "t2": "2025-08-15T15:00", "lo": 291.0, "hi": 296.2, "p": 293.74}, {"t": "2025-08-06T15:00", "t2": "2025-08-15T15:00", "lo": 280.7, "hi": 285.8, "p": 283.44}]},
 "mark": {"type": "rect", "cornerRadius": 2},
 "encoding": {
  "x": {"field": "t", "type": "temporal", "scale": {"domain": [{"year": 2025, "month": 4, "date": 16, "hours": 13, "minutes": 2}, {"year": 2025, "month": 8, "date": 6, "hours": 14, "minutes": 38}], "nice": false}, "axis": null},
  "x2": {"field": "t2"},
  "y": {"field": "lo", "type": "quantitative", "scale": {"domain": [169.9, 407.1], "nice": false, "zero": false}, "axis": null},
  "y2": {"field": "hi"},
  "fill": {"condition": {"test": "datum.p > 290", "value": "#1515e8"}, "value": "#48f500"}}},
{"data": {"values": [{"tx": "2025-08-07T19:00", "p": 293.74, "label": "293.74 B"}, {"tx": "2025-08-07T19:00", "p": 283.44, "label": "283.44 B"}]},
 "mark": {"type": "text", "align": "left", "baseline": "middle", "font": "Roboto", "fontSize": 14.5, "dy": 0},
 "encoding": {
  "x": {"field": "tx", "type": "temporal", "scale": {"domain": [{"year": 2025, "month": 4, "date": 16, "hours": 13, "minutes": 2}, {"year": 2025, "month": 8, "date": 6, "hours": 14, "minutes": 38}], "nice": false}, "axis": null},
  "y": {"field": "p", "type": "quantitative", "scale": {"domain": [169.9, 407.1], "nice": false, "zero": false}, "axis": null},
  "text": {"field": "label"},
  "color": {"condition": {"test": "datum.p > 290", "value": "#ffffff"}, "value": "#000000"}}}
],
"resolve": {"scale": {"x": "independent", "y": "independent"}}
}
